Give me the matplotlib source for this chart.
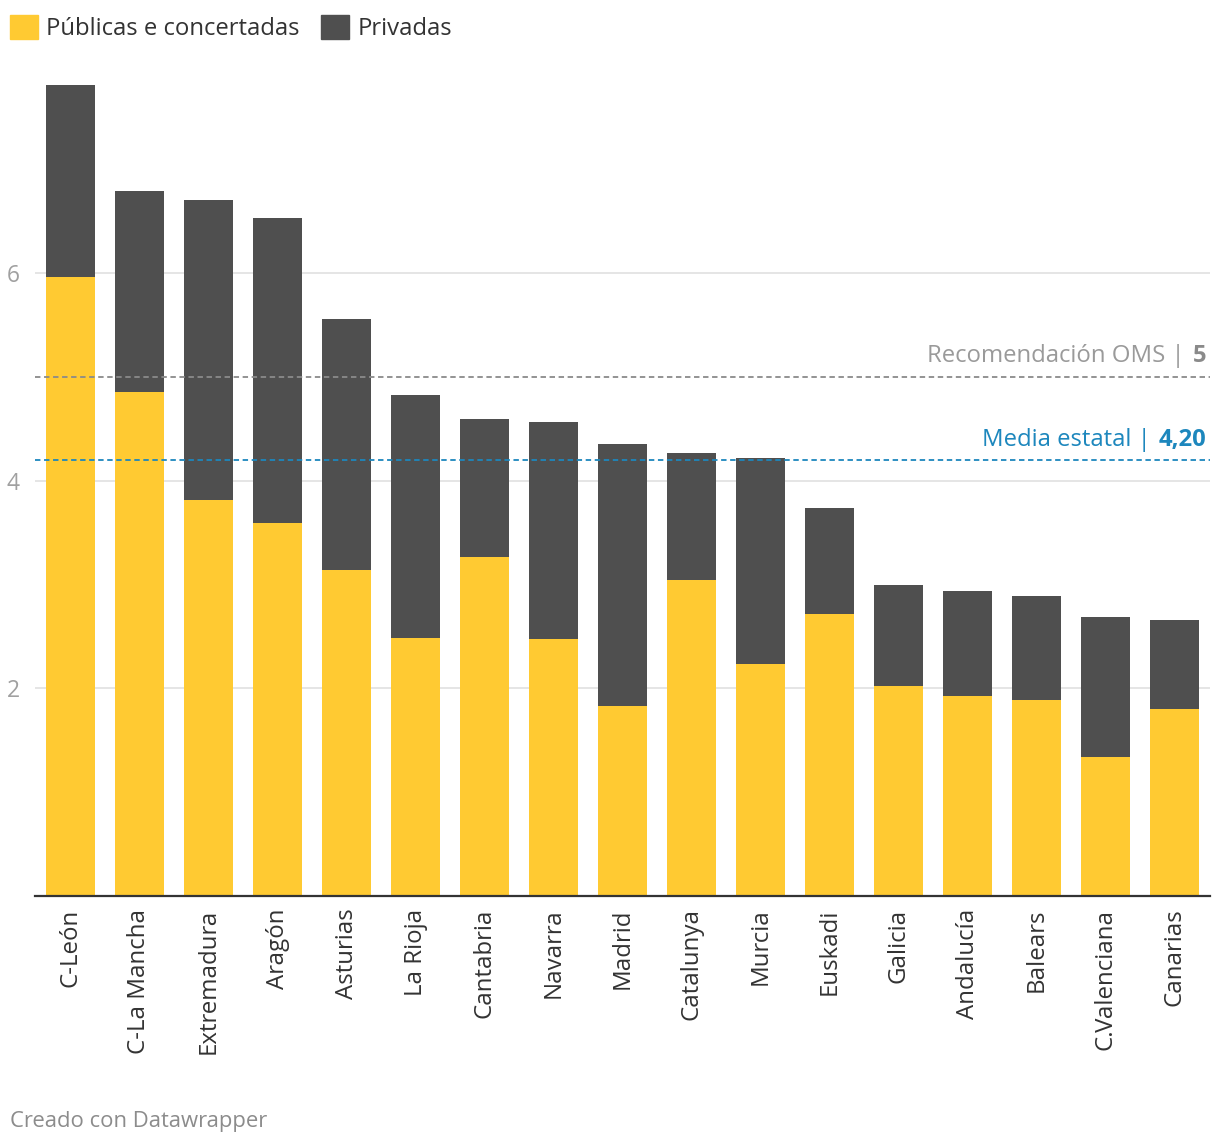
import matplotlib.pyplot as plt
from matplotlib import font_manager as fm
from matplotlib.patches import Patch

# the variable Open Sans file renders condensed; keep only the static files
fm.fontManager.ttflist = [f for f in fm.fontManager.ttflist if '[' not in f.fname]
plt.rcParams['font.family'] = ['Open Sans', 'DejaVu Sans']

regiones = ['C-León', 'C-La Mancha', 'Extremadura', 'Aragón', 'Asturias', 'La Rioja',
            'Cantabria', 'Navarra', 'Madrid', 'Catalunya', 'Murcia', 'Euskadi',
            'Galicia', 'Andalucía', 'Balears', 'C.Valenciana', 'Canarias']
publicas = [5.96, 4.85, 3.81, 3.59, 3.14, 2.48, 3.26, 2.47, 1.83, 3.04, 2.23, 2.72,
            2.02, 1.93, 1.89, 1.34, 1.80]
totales = [7.81, 6.79, 6.70, 6.53, 5.56, 4.82, 4.59, 4.56, 4.35, 4.27, 4.22, 3.74,
           2.99, 2.94, 2.89, 2.69, 2.66]
privadas = [t - p for t, p in zip(totales, publicas)]
oms = 5
media = 4.20

amarillo = '#ffca32'
gris_osc = '#4f4f4f'
azul = '#1d87bd'

fig = plt.figure(figsize=(12.2, 11.46), dpi=100)
ax = fig.add_axes([35 / 1220, 1 - 896 / 1146, 1175 / 1220, 836 / 1146])

x = range(len(regiones))
ax.bar(x, publicas, width=0.71, color=amarillo, zorder=2)
ax.bar(x, privadas, width=0.71, bottom=publicas, color=gris_osc, zorder=2)

ax.set_xlim(-0.514, 16.51)
ax.set_ylim(0, 8.05)
ax.set_yticks([2, 4, 6])
ax.set_yticklabels(['2', '4', '6'])
ax.grid(axis='y', color='#e0e0e0', linewidth=1.2, zorder=0)
ax.tick_params(axis='y', length=0, labelsize=16.5, labelcolor='#a0a0a0', pad=11)
ax.set_xticks(list(x))
ax.set_xticklabels(regiones, rotation=90, fontsize=17.3, color='#333333')
ax.tick_params(axis='x', length=0, pad=9)
for s in ['left', 'right', 'top']:
    ax.spines[s].set_visible(False)
ax.spines['bottom'].set_color('#333333')
ax.spines['bottom'].set_linewidth(1.6)
ax.spines['bottom'].set_zorder(3)

ax.axhline(oms, color='#8a8a8a', linestyle=(0, (3, 2)), linewidth=1.3, zorder=3)
ax.axhline(media, color=azul, linestyle=(0, (3, 2)), linewidth=1.3, zorder=3)

fig.canvas.draw()
renderer = fig.canvas.get_renderer()


def etiqueta(y, normal, bold, color, color_bold):
    tb = ax.text(16.46, y + 0.08, bold, ha='right', va='bottom', fontsize=17.2,
                 fontweight='bold', color=color_bold, zorder=4)
    bb = tb.get_window_extent(renderer=renderer)
    x_disp = bb.x0 - 2
    x_data = ax.transData.inverted().transform((x_disp, 0))[0]
    ax.text(x_data, y + 0.08, normal, ha='right', va='bottom', fontsize=17.2,
            color=color, zorder=4)


etiqueta(oms, 'Recomendación OMS | ', str(oms), '#9a9a9a', '#8a8a8a')
etiqueta(media, 'Media estatal | ', f'{media:.2f}'.replace('.', ','), azul, azul)

handles = [Patch(color=amarillo, label='Públicas e concertadas'),
           Patch(color=gris_osc, label='Privadas')]
fig.legend(handles=handles, loc='upper left', bbox_to_anchor=(0.0, 1 - 5 / 1146), ncol=2,
           frameon=False, fontsize=17.2, handlelength=1.17, handleheight=1.17,
           handletextpad=0.33, columnspacing=0.92, labelcolor='#333333',
           borderpad=0, borderaxespad=0.42)

fig.text(10 / 1220, 1 - 1122 / 1146, 'Creado con Datawrapper', fontsize=15.8,
         color='#8c8c8c', va='center', ha='left')

fig.savefig('out.png', dpi=100, facecolor='white')
